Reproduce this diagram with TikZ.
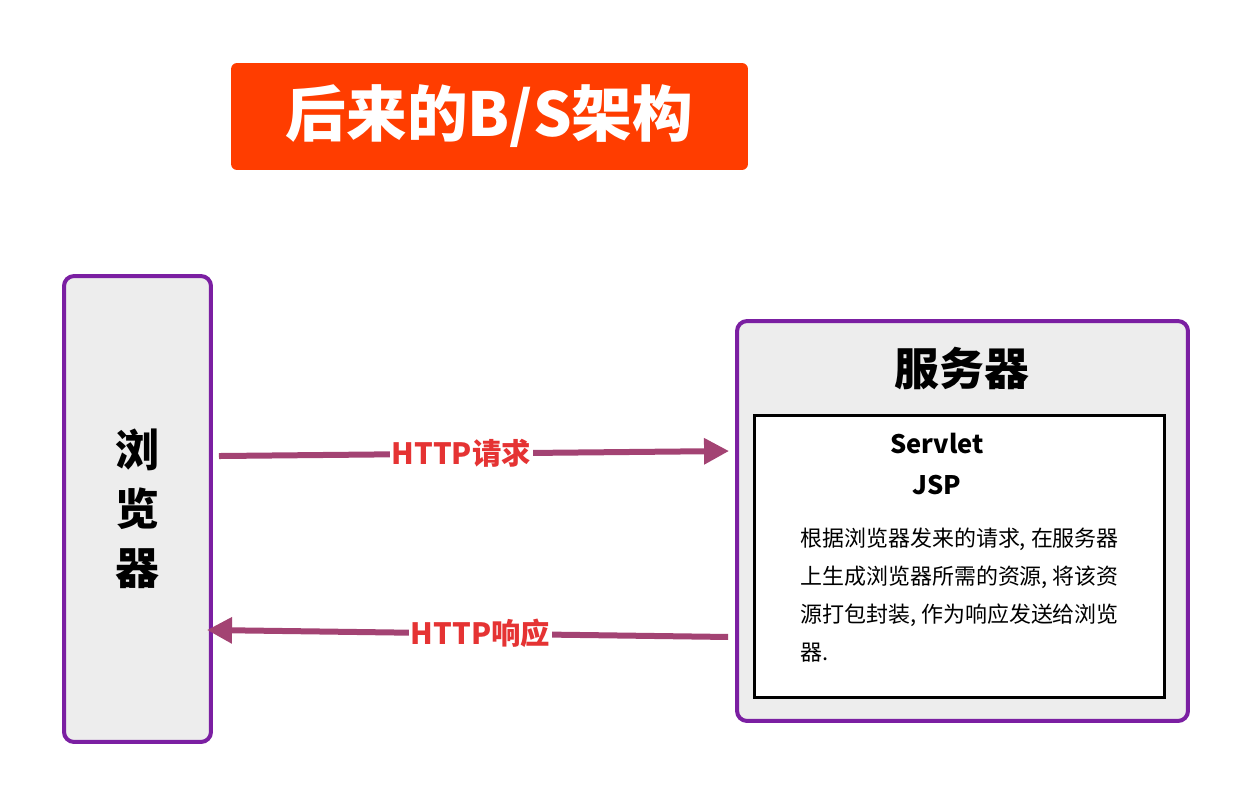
\documentclass[tikz,border=0pt]{standalone}
\usepackage{fontspec}
\newfontfamily\cjk{Noto Sans CJK SC}
\usepackage{tikz}
\usetikzlibrary{arrows.meta}
\definecolor{titlered}{HTML}{FF3D00}
\definecolor{boxpurple}{HTML}{7B1FA2}
\definecolor{boxgray}{HTML}{EDEDED}
\definecolor{flowpink}{HTML}{A34373}
\definecolor{labelred}{HTML}{E53333}

\begin{document}
\begin{tikzpicture}[x=0.02cm,y=-0.02cm,
    titlebox/.style={fill=titlered,rounded corners=0.12cm,inner sep=0pt,
      minimum width=10.34cm,minimum height=2.14cm,text=white,
      font=\cjk\bfseries\fontsize{34.5}{38}\selectfont},
    sidebox/.style={draw=boxpurple,fill=boxgray,line width=0.08cm,
      rounded corners=0.2cm,inner sep=0pt},
    flow/.style={draw=flowpink,line width=0.12cm,
      -{Triangle[length=0.5cm,width=0.5cm]}},
    flowlabel/.style={fill=white,inner sep=1pt,text=labelred,pos=0.475,
      font=\cjk\bfseries\fontsize{16.7}{20}\selectfont}]
    \useasboundingbox (0,0) rectangle (1250,805);

    \node[titlebox] (title) at (489.5,116.5) {后来的B/S架构};

    \node[sidebox,minimum width=2.94cm,minimum height=9.32cm] (browser) at (137.5,509) {};
    \node[align=center,font=\cjk\bfseries\fontsize{25}{33.5}\selectfont] (browserlab)
      at (137,509) {浏\\览\\器};

    \node[sidebox,minimum width=9.02cm,minimum height=8cm] (server) at (962.5,521) {};
    \node[font=\cjk\bfseries\fontsize{25.5}{28}\selectfont] (serverlab) at (962,368) {服务器};
    \node[draw=black,fill=white,line width=0.06cm,minimum width=8.22cm,
      minimum height=5.66cm,inner sep=0pt] (inner) at (959.5,556.5) {};
    \node[font=\cjk\bfseries\fontsize{14.5}{17}\selectfont] (servlet) at (937,443) {Servlet};
    \node[font=\cjk\bfseries\fontsize{14.5}{17}\selectfont] (jsp) at (937,485) {JSP};
    \node[anchor=west,align=left,inner sep=0pt,
      font=\cjk\fontsize{12.5}{21.7}\selectfont] (desc) at (800,595)
      {根据浏览器发来的请求, 在服务器\\上生成浏览器所需的资源, 将该资\\源打包封装, 作为响应发送给浏览\\器.};

    \draw[flow] ([xshift=0.12cm,yshift=1.06cm]browser.east)
      -- node[flowlabel] {HTTP请求} ([xshift=-0.12cm,yshift=1.4cm]server.west);
    \draw[flow] ([xshift=-0.14cm,yshift=-2.32cm]server.west)
      -- node[flowlabel] {HTTP响应} ([xshift=-0.12cm,yshift=-2.42cm]browser.east);
  \end{tikzpicture}
\end{document}
